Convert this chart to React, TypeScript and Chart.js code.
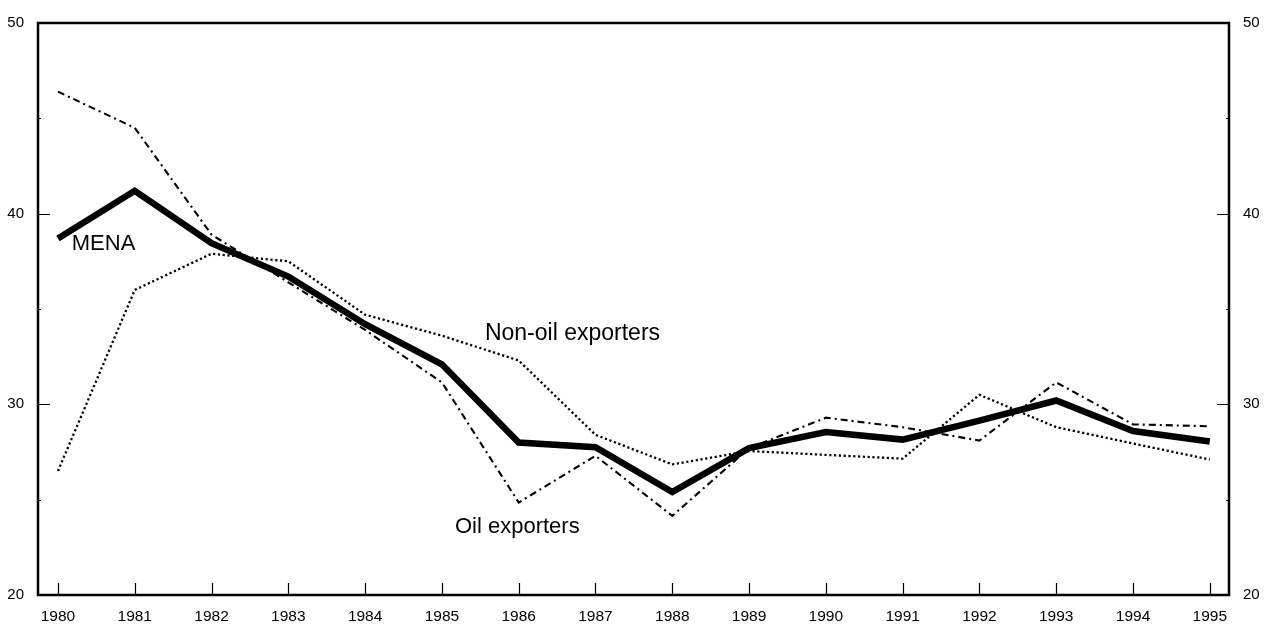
import React, { useEffect, useRef } from "react";
import { Chart, registerables } from "chart.js";

Chart.register(...registerables);

const years = [1980, 1981, 1982, 1983, 1984, 1985, 1986, 1987, 1988, 1989, 1990, 1991, 1992, 1993, 1994, 1995];
const mena = [38.7, 41.2, 38.45, 36.7, 34.2, 32.1, 28.0, 27.75, 25.4, 27.7, 28.55, 28.15, 29.15, 30.2, 28.6, 28.05];
const oilExporters = [46.4, 44.5, 38.9, 36.4, 33.9, 31.15, 24.85, 27.3, 24.15, 27.7, 29.3, 28.8, 28.1, 31.15, 28.95, 28.85];
const nonOilExporters = [26.5, 36.0, 37.9, 37.5, 34.7, 33.6, 32.3, 28.4, 26.85, 27.55, 27.35, 27.15, 30.5, 28.8, 27.95, 27.1];
const yTickValues = [20, 30, 40, 50];
const seriesLabels = ["MENA", "Non-oil exporters", "Oil exporters"];

const FONT = "'Liberation Sans', Arial, Helvetica, sans-serif";

const annotationPlugin = {
  id: "frameAndLabels",
  afterDraw(chart: any) {
    const { ctx, chartArea, scales } = chart;
    const { left, right, top, bottom } = chartArea;
    ctx.save();
    ctx.strokeStyle = "#000";
    ctx.lineWidth = 1.2;
    ctx.beginPath();
    for (const yr of years) {
      const px = Math.round(scales.x.getPixelForValue(yr)) + 0.5;
      ctx.moveTo(px, bottom);
      ctx.lineTo(px, bottom - 12);
    }
    for (let v = 20; v <= 50; v += 5) {
      const py = Math.round(scales.y.getPixelForValue(v)) + 0.5;
      const len = v % 10 === 0 ? 12 : 3;
      ctx.moveTo(left, py);
      ctx.lineTo(left + len, py);
      ctx.moveTo(right, py);
      ctx.lineTo(right - len, py);
    }
    ctx.stroke();
    ctx.lineWidth = 2.5;
    ctx.strokeRect(left, top, right - left, bottom - top);
    ctx.fillStyle = "#000";
    ctx.textBaseline = "alphabetic";
    ctx.textAlign = "left";
    const labelPos = [
      { x: 1980.18, y: 38.09, size: 22 },
      { x: 1985.56, y: 33.36, size: 23 },
      { x: 1985.17, y: 23.27, size: 22 },
    ];
    labelPos.forEach((p, i) => {
      ctx.font = `${p.size}px ${FONT}`;
      ctx.fillText(seriesLabels[i], scales.x.getPixelForValue(p.x), scales.y.getPixelForValue(p.y));
    });
    ctx.restore();
  },
};

export default function App() {
  const canvasRef = useRef<HTMLCanvasElement | null>(null);

  useEffect(() => {
    document.body.style.margin = "0";
    const canvas = canvasRef.current;
    if (!canvas) return;
    const toPts = (arr: number[]) => years.map((yr, i) => ({ x: yr, y: arr[i] }));
    const chart = new Chart(canvas, {
      type: "line",
      data: {
        datasets: [
          {
            label: seriesLabels[0],
            data: toPts(mena),
            borderColor: "#000",
            borderWidth: 6.5,
            pointRadius: 0,
            tension: 0,
            borderJoinStyle: "miter",
            yAxisID: "y",
          },
          {
            label: seriesLabels[1],
            data: toPts(nonOilExporters),
            borderColor: "#000",
            borderWidth: 2.3,
            borderDash: [2.2, 2.6],
            pointRadius: 0,
            tension: 0,
            yAxisID: "y",
          },
          {
            label: seriesLabels[2],
            data: toPts(oilExporters),
            borderColor: "#000",
            borderWidth: 2.1,
            borderDash: [7, 4, 2, 4],
            pointRadius: 0,
            tension: 0,
            yAxisID: "y",
          },
        ],
      },
      options: {
        animation: false,
        responsive: false,
        maintainAspectRatio: false,
        layout: { padding: { top: 18, left: 0, right: 0, bottom: 0 } },
        plugins: { legend: { display: false }, tooltip: { enabled: false } },
        scales: {
          x: {
            type: "linear",
            min: 1979.74,
            max: 1995.25,
            grid: { display: false, drawTicks: false },
            border: { display: false },
            ticks: {
              stepSize: 1,
              includeBounds: false,
              autoSkip: false,
              maxRotation: 0,
              padding: 12,
              color: "#000",
              font: { family: FONT, size: 15.5 },
              callback: (v: any) => String(v),
            },
            afterFit: (s: any) => {
              s.height = 31;
            },
          },
          y: {
            position: "left",
            min: 20,
            max: 50,
            grid: { display: false, drawTicks: false },
            border: { display: false },
            afterBuildTicks: (s: any) => {
              s.ticks = yTickValues.map((v) => ({ value: v }));
            },
            ticks: {
              padding: 14,
              color: "#000",
              font: { family: FONT, size: 15 },
              callback: (v: any) => String(v),
            },
            afterFit: (s: any) => {
              s.width = 38;
            },
          },
          y2: {
            position: "right",
            min: 20,
            max: 50,
            grid: { display: false, drawTicks: false },
            border: { display: false },
            afterBuildTicks: (s: any) => {
              s.ticks = yTickValues.map((v) => ({ value: v }));
            },
            ticks: {
              padding: 14,
              color: "#000",
              font: { family: FONT, size: 15 },
              callback: (v: any) => String(v),
            },
            afterFit: (s: any) => {
              s.width = 43;
            },
          },
        },
      },
      plugins: [annotationPlugin],
    } as any);
    return () => chart.destroy();
  }, []);

  return (
    <div style={{ position: "absolute", left: 0, top: 0, width: 1272, height: 626, background: "#fff" }}>
      <canvas ref={canvasRef} width={1272} height={626} style={{ display: "block" }} />
    </div>
  );
}
